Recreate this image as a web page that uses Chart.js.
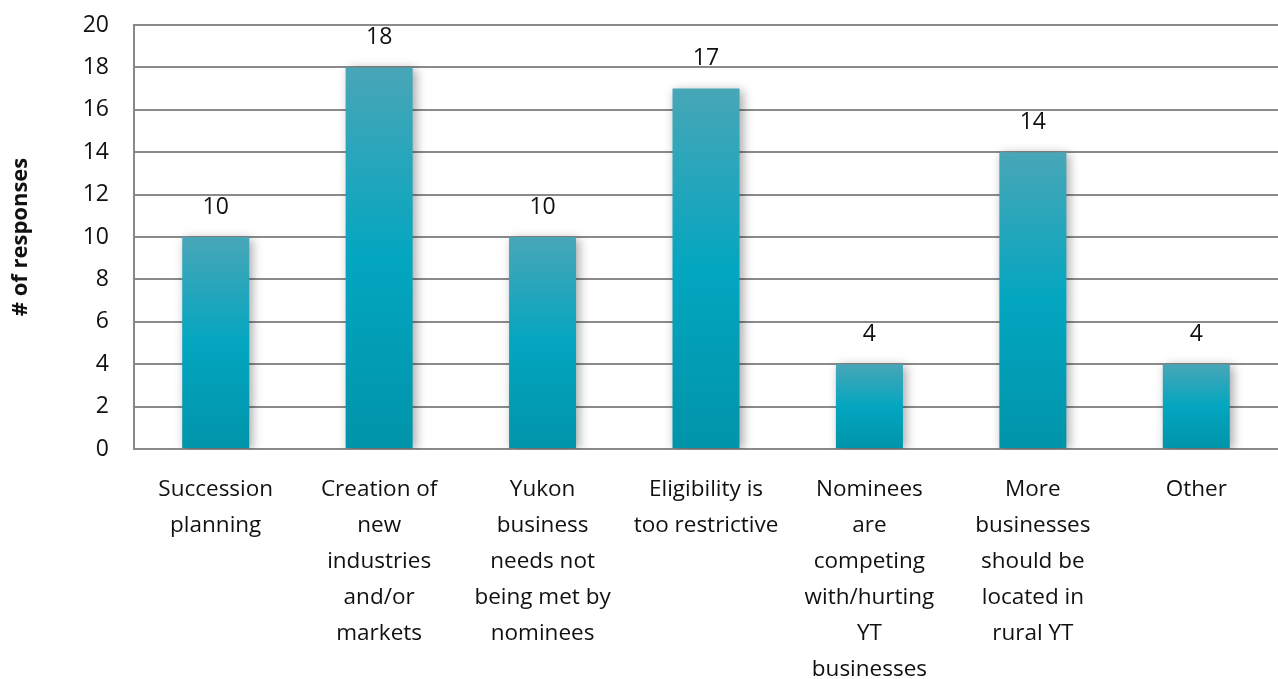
<!DOCTYPE html>
<html>
<head>
<meta charset="utf-8">
<script src="https://cdn.jsdelivr.net/npm/chart.js@4/dist/chart.umd.min.js"></script>
<style>
  html, body { margin: 0; padding: 0; background: #fff; }
  #wrap { width: 1278px; height: 679px; }
</style>
</head>
<body>
<div id="wrap"><canvas id="grafico" width="1278" height="679"></canvas></div>
<script>
// categorias y respuestas
var categorias = [
  ["Succession", "planning"],
  ["Creation of", "new", "industries", "and/or", "markets"],
  ["Yukon", "business", "needs not", "being met by", "nominees"],
  ["Eligibility is", "too restrictive"],
  ["Nominees", "are", "competing", "with/hurting", "YT", "businesses"],
  ["More", "businesses", "should be", "located in", "rural YT"],
  ["Other"]
];
var respuestas = [10, 18, 10, 17, 4, 14, 4];
var ticksY = [0, 2, 4, 6, 8, 10, 12, 14, 16, 18, 20];

var fuente = "'Open Sans', 'Noto Sans', sans-serif";
var gris = "#8a8a8a";

// degradado de cada barra desde su tope hasta la base
function degradado(ctx) {
  var chart = ctx.chart;
  if (!chart.chartArea || ctx.dataIndex === undefined) return "#0aa5bf";
  var y = chart.scales.y;
  var top = y.getPixelForValue(respuestas[ctx.dataIndex]);
  var base = y.getPixelForValue(0);
  var g = chart.ctx.createLinearGradient(0, top, 0, base);
  g.addColorStop(0, "#48a6b7");
  g.addColorStop(0.5, "#03a6c0");
  g.addColorStop(1, "#0094aa");
  return g;
}

// sombra suave de las barras
var sombra = {
  id: "sombra",
  beforeDatasetDraw: function (chart) {
    var c = chart.ctx;
    c.save();
    c.shadowColor = "rgba(0,0,0,0.35)";
    c.shadowBlur = 10;
    c.shadowOffsetX = 3;
    c.shadowOffsetY = 2;
  },
  afterDatasetDraw: function (chart) {
    chart.ctx.restore();
  }
};

// valores encima de cada barra
var etiquetas = {
  id: "etiquetas",
  afterDatasetsDraw: function (chart) {
    var c = chart.ctx;
    var meta = chart.getDatasetMeta(0);
    c.save();
    c.font = "23px " + fuente;
    c.fillStyle = "#111";
    c.textAlign = "center";
    c.textBaseline = "middle";
    meta.data.forEach(function (bar, i) {
      c.fillText(String(respuestas[i]), bar.x, bar.y - 30);
    });
    c.restore();
  }
};

new Chart(document.getElementById("grafico"), {
  type: "bar",
  data: {
    labels: categorias,
    datasets: [{
      data: respuestas,
      backgroundColor: degradado,
      borderWidth: 0,
      barPercentage: 0.41,
      categoryPercentage: 1
    }]
  },
  options: {
    responsive: false,
    animation: false,
    layout: { padding: { top: 25, right: 0, left: 8, bottom: 0 } },
    plugins: { legend: { display: false }, tooltip: { enabled: false } },
    scales: {
      x: {
        grid: { display: false, drawTicks: false },
        border: { color: gris, width: 2 },
        ticks: {
          color: "#111",
          padding: 23,
          maxRotation: 0,
          autoSkip: false,
          font: { family: fuente, size: 22.5, lineHeight: 1.6 }
        },
        afterFit: function (s) { s.height = 230; }
      },
      y: {
        min: 0,
        max: 20,
        afterBuildTicks: function (s) {
          s.ticks = ticksY.map(function (v) { return { value: v }; });
        },
        grid: { color: gris, lineWidth: 2, drawTicks: false },
        border: { color: gris, width: 2 },
        ticks: {
          color: "#111",
          padding: 25,
          font: { family: fuente, size: 23 }
        },
        title: {
          display: true,
          text: "# of responses",
          color: "#111",
          font: { family: fuente, size: 22, weight: "bold" },
          padding: { top: 0, bottom: 16 }
        },
        afterFit: function (s) {
          s.width = 126;
          s.paddingTop = 0;
        }
      }
    }
  },
  plugins: [sombra, etiquetas]
});
</script>
</body>
</html>
